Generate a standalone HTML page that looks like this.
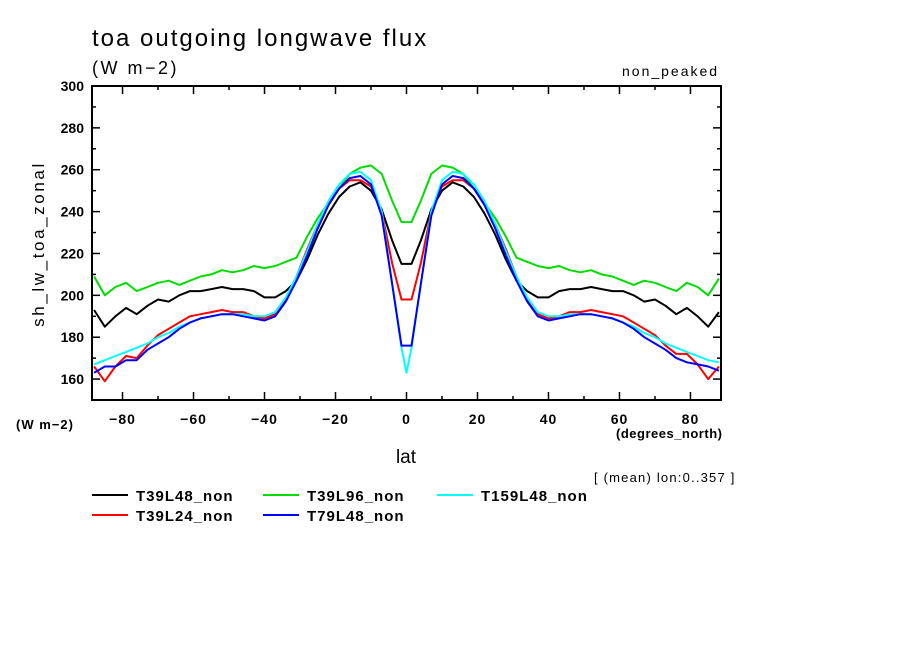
<!DOCTYPE html>
<html><head><meta charset="utf-8"><style>
body{margin:0;background:#fff;}
svg{display:block;font-family:"Liberation Sans","DejaVu Sans",sans-serif;}
</style></head><body>
<svg id="chart" width="904" height="654" viewBox="0 0 904 654">
<rect x="0" y="0" width="904" height="654" fill="#fff"/>
<text x="92" y="46" font-size="24" letter-spacing="2">toa outgoing longwave flux</text>
<text x="92" y="74" font-size="18" letter-spacing="2.5">(W m−2)</text>
<text x="622" y="76" font-size="14" letter-spacing="2">non_peaked</text>
<text transform="translate(44,244) rotate(-90)" font-size="17" letter-spacing="2.6" text-anchor="middle">sh_lw_toa_zonal</text>
<text x="16" y="429" font-size="13" font-weight="bold" letter-spacing="1">(W m−2)</text>
<text x="616" y="438" font-size="13" font-weight="bold" letter-spacing="0.5">(degrees_north)</text>
<text x="406" y="463" font-size="19" text-anchor="middle">lat</text>
<text x="594" y="482" font-size="13" letter-spacing="1.2">[ (mean) lon:0..357 ]</text>
<g id="axes"></g>
<g id="series"></g>
<g id="legend"></g>
</svg>
<script>
const lats=[-88,-85,-82,-79,-76,-73,-70,-67,-64,-61,-58,-55,-52,-49,-46,-43,-40,-37,-34,-31,-28,-25,-22,-19,-16,-13,-10,-7,-4,-1.4,0,1.4,4,7,10,13,16,19,22,25,28,31,34,37,40,43,46,49,52,55,58,61,64,67,70,73,76,79,82,85,88];
const blackVals=[193,185,190,194,191,195,198,197,200,202,202,203,204,203,203,202,199,199,202,207,217,229,239,247,252,254,250,241,226,215,215,215,226,241,250,254,252,247,239,229,217,207,202,199,199,202,203,203,204,203,202,202,200,197,198,195,191,194,190,185,192];
const greenVals=[209,200,204,206,202,204,206,207,205,207,209,210,212,211,212,214,213,214,216,218,228,237,244,251,258,261,262,258,245,235,235,235,245,258,262,261,258,251,244,237,228,218,216,214,213,214,212,211,212,210,209,207,205,207,206,204,202,206,204,200,208];
const redVals=[166,159,166,171,170,176,181,184,187,190,191,192,193,192,192,190,189,191,198,209,222,234,244,251,255,255,252,240,215,198,198,198,215,240,252,255,255,251,244,234,222,209,198,191,189,190,192,192,193,192,191,190,187,184,181,176,172,172,167,160,166];
const blueVals=[163,166,166,169,169,174,177,180,184,187,189,190,191,191,190,189,188,190,197,207,219,232,243,251,256,257,253,238,205,176,176,176,205,238,253,257,256,251,243,232,219,207,197,190,188,189,190,191,191,190,189,187,184,180,177,174,170,168,167,166,164];
const cyanVals=[167,169,171,173,175,177,180,182,185,187,189,190,191,191,191,190,190,192,199,209,221,234,245,253,258,259,255,240,205,175,163,175,205,240,255,259,258,253,245,234,221,209,199,192,190,190,191,191,191,190,189,187,185,182,180,177,175,173,171,169,168];
const seriesNames=["T39L48_non","T39L24_non","T39L96_non","T79L48_non","T159L48_non"];
const xTicks=[-80,-60,-40,-20,0,20,40,60,80];
const yTicks=[160,180,200,220,240,260,280,300];

const NS="http://www.w3.org/2000/svg";
const L=92,R=721,T=86,B=400;
const xMin=-88.6,xMax=88.6,yMin=150,yMax=300;
function xs(v){return L+(v-xMin)/(xMax-xMin)*(R-L);}
function ys(v){return B-(v-yMin)/(yMax-yMin)*(B-T);}
function mk(tag,attrs,parent){const e=document.createElementNS(NS,tag);for(const k in attrs)e.setAttribute(k,attrs[k]);parent.appendChild(e);return e;}

const axes=document.getElementById('axes');
const frame=mk('rect',{x:L,y:T,width:R-L,height:B-T,fill:'none',stroke:'#000','stroke-width':2},axes);


for(let v=-80;v<=80;v+=10){
  const big=v%20===0;const len=big?8:4;
  const t1=mk('line',{x1:xs(v),x2:xs(v),y1:B,y2:B-len,stroke:'#000','stroke-width':1.5},axes);
  
  
  const t2=mk('line',{x1:xs(v),x2:xs(v),y1:T,y2:T+len,stroke:'#000','stroke-width':1.5},axes);
  
  
}
for(let v=150;v<=300;v+=10){
  const big=v%20===0;const len=big?8:4;
  const t1=mk('line',{x1:L,x2:L+len,y1:ys(v),y2:ys(v),stroke:'#000','stroke-width':1.5},axes);
  
  
  const t2=mk('line',{x1:R,x2:R-len,y1:ys(v),y2:ys(v),stroke:'#000','stroke-width':1.5},axes);
  
  
}
xTicks.forEach(v=>{
  const t=mk('text',{x:xs(v),y:B+24,'font-size':14,'font-weight':'bold','letter-spacing':1,'text-anchor':'middle'},axes);
  t.textContent=(v<0?'−':'')+Math.abs(v);
  
  
});
yTicks.forEach(v=>{
  const t=mk('text',{x:L-8,y:ys(v)+5,'font-size':14,'font-weight':'bold','text-anchor':'end'},axes);
  t.textContent=v;
  
  
});

const colors=['#000','#f00','#0d0','#00f','#0ff'];
const data=[blackVals,redVals,greenVals,blueVals,cyanVals];
const sg=document.getElementById('series');
const order=[2,0,1,4,3];
order.forEach(i=>{
  const pts=lats.map((la,j)=>xs(la).toFixed(1)+','+ys(data[i][j]).toFixed(1)).join(' ');
  const p=mk('polyline',{points:pts,fill:'none',stroke:colors[i],'stroke-width':2,'stroke-linejoin':'round'},sg);
  
  
});

const lg=document.getElementById('legend');
const pos=[[92,495],[92,515],[263,495],[263,515],[437,495]];
seriesNames.forEach((n,i)=>{
  const [x,y]=pos[i];
  const g=mk('g',{},lg);
  
  
  mk('line',{x1:x,x2:x+36,y1:y,y2:y,stroke:colors[i],'stroke-width':2},g);
  const t=mk('text',{x:x+44,y:y+6,'font-size':15,'font-weight':'bold','letter-spacing':1},g);
  t.textContent=n;
});
</script>
</body></html>
